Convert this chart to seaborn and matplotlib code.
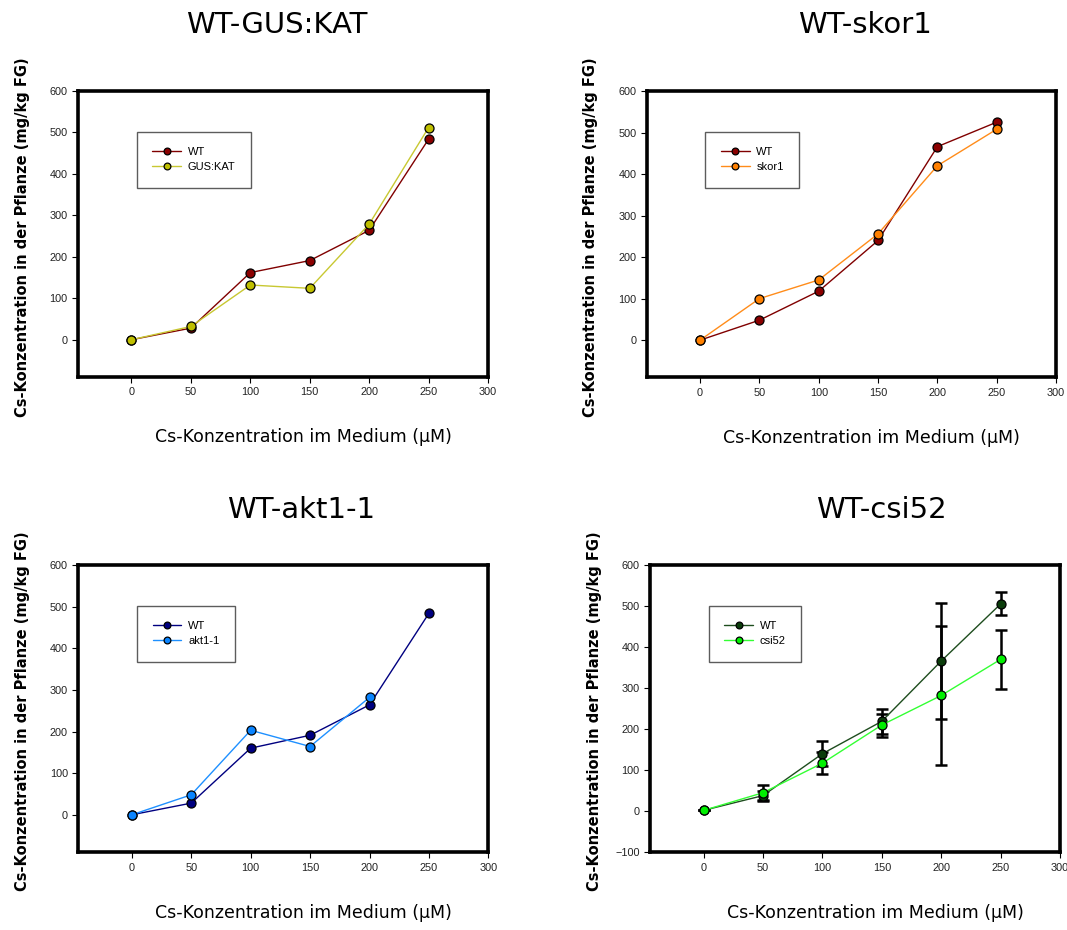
import matplotlib
matplotlib.use("Agg")
import matplotlib.pyplot as plt
import seaborn as sns
import pandas as pd

conc = [0, 50, 100, 150, 200, 250]

# WT-GUS:KAT
gus_wt = [0, 28, 162, 191, 264, 484]
gus_kat = [0, 32, 132, 124, 279, 512]

# WT-skor1
skor_wt = [0, 48, 118, 240, 466, 525]
skor1 = [0, 100, 145, 256, 420, 508]

# WT-akt1-1
akt_wt = [0, 28, 160, 191, 264, 484]
akt1 = [0, 48, 203, 164, 282]

# WT-csi52 (mean and error)
csi_wt = [2, 38, 140, 219, 366, 505]
csi_wt_err = [0, 12, 30, 31, 142, 28]
csi52 = [2, 45, 117, 210, 282, 370]
csi52_err = [0, 18, 27, 28, 170, 72]

titles = ["WT-GUS:KAT", "WT-skor1", "WT-akt1-1", "WT-csi52"]
wt_series = [gus_wt, skor_wt, akt_wt, csi_wt]
wt_errors = [None, None, None, csi_wt_err]
mut_names = ["GUS:KAT", "skor1", "akt1-1", "csi52"]
mut_series = [gus_kat, skor1, akt1, csi52]
mut_errors = [None, None, None, csi52_err]

# (line colour, marker face colour)
wt_colors = [("#800000", "#8B0000"), ("#800000", "#8B0000"),
             ("#000080", "#000080"), ("#1E4D1E", "#0B3D0B")]
mut_colors = [("#C8C832", "#BFBF00"), ("#FF8C1A", "#FF8000"),
              ("#1E90FF", "#0A84FF"), ("#33FF33", "#00F000")]
y_bottom = [-90, -90, -90, -100]

positions = [
    [0.0731, 0.5946, 0.3843, 0.3075],
    [0.6061, 0.5941, 0.3836, 0.3080],
    [0.0734, 0.0836, 0.3843, 0.3089],
    [0.6092, 0.0836, 0.3843, 0.3089],
]
title_x = [0.485, 0.533, 0.544, 0.563]
title_y = [1.23, 1.23, 1.19, 1.19]

sns.set_style("white")
plt.rcParams["font.family"] = ["Liberation Sans", "DejaVu Sans"]
plt.rcParams["text.color"] = "black"

fig = plt.figure(figsize=(10.67, 9.3), dpi=100)

for i, pos in enumerate(positions):
    ax = fig.add_axes(pos)
    wt, mut = wt_series[i], mut_series[i]
    df_wt = pd.DataFrame({"x": conc[:len(wt)], "y": wt})
    df_mut = pd.DataFrame({"x": conc[:len(mut)], "y": mut})

    if wt_errors[i] is not None:
        ax.errorbar(conc[:len(wt)], wt, yerr=wt_errors[i], fmt="none", ecolor="black",
                    elinewidth=1.8, capsize=4, capthick=1.8, zorder=2)
        ax.errorbar(conc[:len(mut)], mut, yerr=mut_errors[i], fmt="none", ecolor="black",
                    elinewidth=1.8, capsize=4, capthick=1.8, zorder=2)

    sns.lineplot(data=df_wt, x="x", y="y", ax=ax, color=wt_colors[i][0], linewidth=1.0,
                 marker="o", markersize=6.5, markerfacecolor=wt_colors[i][1],
                 markeredgecolor="black", markeredgewidth=0.9, label="WT", zorder=3)
    sns.lineplot(data=df_mut, x="x", y="y", ax=ax, color=mut_colors[i][0], linewidth=1.0,
                 marker="o", markersize=6.5, markerfacecolor=mut_colors[i][1],
                 markeredgecolor="black", markeredgewidth=0.9, label=mut_names[i], zorder=4)

    ax.set_xlim(-45, 300)
    ax.set_ylim(y_bottom[i], 600)
    ax.set_xticks(range(0, 301, 50))
    ax.set_yticks(range(-100 if y_bottom[i] <= -100 else 0, 601, 100))
    ax.tick_params(axis="both", labelsize=7.8, labelcolor="#222222", direction="out",
                   length=4, width=0.8, color="black", bottom=True, left=True)
    for sp in ax.spines.values():
        sp.set_linewidth(2.6)
        sp.set_color("black")

    ax.set_xlabel("Cs-Konzentration im Medium (\u03bcM)", fontsize=12.5,
                  family=["DejaVu Sans"], color="black")
    ax.xaxis.set_label_coords(0.55, -0.18)
    ax.set_ylabel("Cs-Konzentration in der Pflanze (mg/kg FG)", fontsize=10.5,
                  fontweight="bold", family=["DejaVu Sans"], color="black")
    ax.yaxis.set_label_coords(-0.118, 0.49)

    ax.text(title_x[i], title_y[i], titles[i], transform=ax.transAxes, ha="center",
            va="center", fontsize=21, family=["DejaVu Sans"], color="black")

    leg = ax.legend(loc="upper left", bbox_to_anchor=(0.143, 0.858), borderaxespad=0,
                    fancybox=False, frameon=True, fontsize=8, handlelength=2.6,
                    borderpad=1.4, labelspacing=0.45, handletextpad=0.6,
                    markerscale=0.75)
    leg.get_frame().set_edgecolor("#333333")
    leg.get_frame().set_linewidth(1.0)

fig.savefig("out.png", dpi=100)
